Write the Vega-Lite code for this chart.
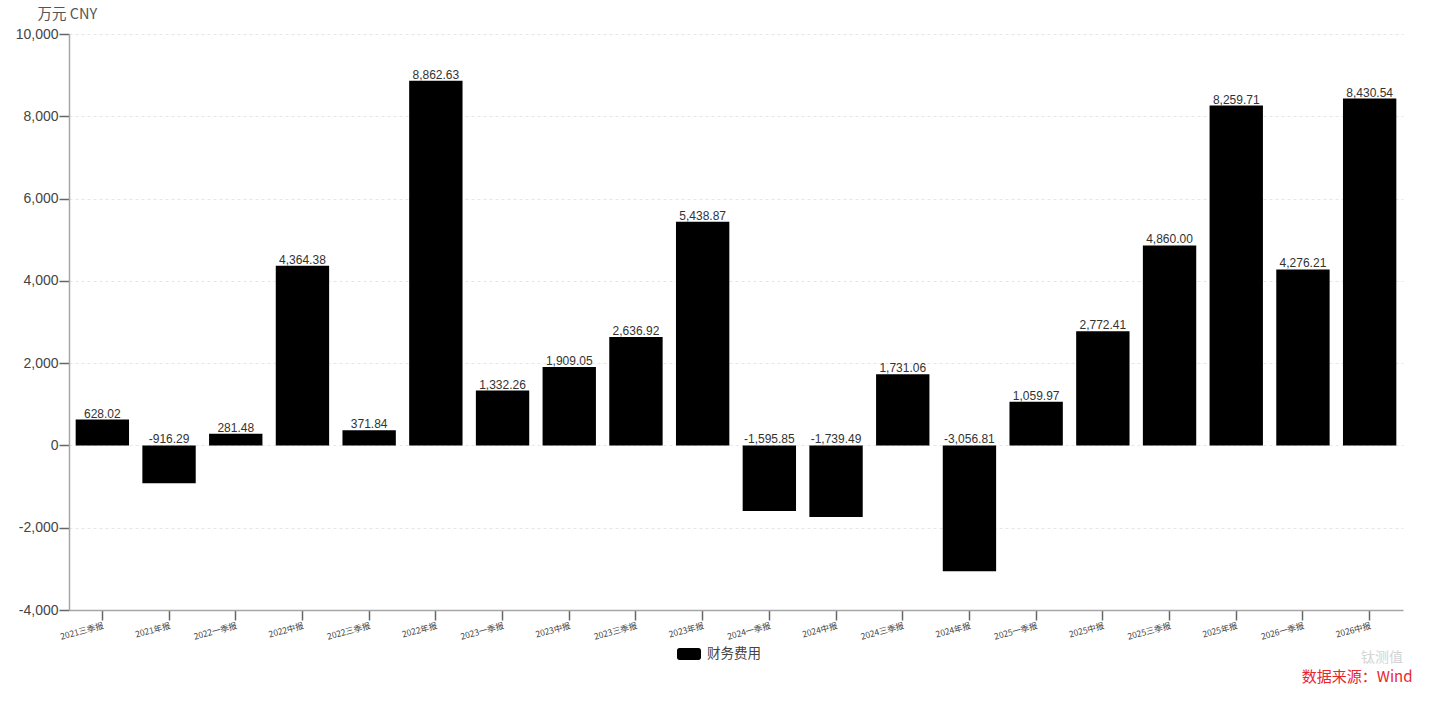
{
"$schema":"https://vega.github.io/schema/vega-lite/v6.json",
"width":1334,"height":576,
"autosize":{"type":"none"},
"padding":{"left":69,"top":34,"right":37,"bottom":91},
"background":"white",
"config":{"font":"Noto Sans CJK SC","view":{"stroke":null}},
"title":{"text":"钛测值","orient":"bottom","anchor":"end","fontSize":14,"fontWeight":"normal","color":"#d4d4d4","offset":0,"dx":-9,"dy":-33},
"data":{"values":[
{"period":"2021三季报","value":628.02,"label":"628.02","series":"财务费用"},
{"period":"2021年报","value":-916.29,"label":"-916.29","series":"财务费用"},
{"period":"2022一季报","value":281.48,"label":"281.48","series":"财务费用"},
{"period":"2022中报","value":4364.38,"label":"4,364.38","series":"财务费用"},
{"period":"2022三季报","value":371.84,"label":"371.84","series":"财务费用"},
{"period":"2022年报","value":8862.63,"label":"8,862.63","series":"财务费用"},
{"period":"2023一季报","value":1332.26,"label":"1,332.26","series":"财务费用"},
{"period":"2023中报","value":1909.05,"label":"1,909.05","series":"财务费用"},
{"period":"2023三季报","value":2636.92,"label":"2,636.92","series":"财务费用"},
{"period":"2023年报","value":5438.87,"label":"5,438.87","series":"财务费用"},
{"period":"2024一季报","value":-1595.85,"label":"-1,595.85","series":"财务费用"},
{"period":"2024中报","value":-1739.49,"label":"-1,739.49","series":"财务费用"},
{"period":"2024三季报","value":1731.06,"label":"1,731.06","series":"财务费用"},
{"period":"2024年报","value":-3056.81,"label":"-3,056.81","series":"财务费用"},
{"period":"2025一季报","value":1059.97,"label":"1,059.97","series":"财务费用"},
{"period":"2025中报","value":2772.41,"label":"2,772.41","series":"财务费用"},
{"period":"2025三季报","value":4860.00,"label":"4,860.00","series":"财务费用"},
{"period":"2025年报","value":8259.71,"label":"8,259.71","series":"财务费用"},
{"period":"2026一季报","value":4276.21,"label":"4,276.21","series":"财务费用"},
{"period":"2026中报","value":8430.54,"label":"8,430.54","series":"财务费用"}
]},
"encoding":{
"x":{"field":"period","type":"nominal","sort":null,"scale":{"paddingInner":0.2,"paddingOuter":0.1},
"axis":{"title":"数据来源：Wind","titleColor":"#e8262d","titleFontSize":15,"titleFontWeight":"normal","titleAnchor":"end","titleX":1343,"titleY":66,"titleBaseline":"middle","labelAngle":-15,"labelAlign":"right","labelBaseline":"top","labelFontSize":8.5,"labelColor":"#444444","labelPadding":1,"labelOverlap":false,"tickSize":10,"tickColor":"#666666","tickWidth":1.5,"domainColor":"#a6a6a6","domainWidth":1.5,"grid":false}}
},
"layer":[
{"mark":{"type":"bar"},
 "encoding":{
  "y":{"field":"value","type":"quantitative","scale":{"domain":[-4000,10000],"nice":false,"zero":false},
   "axis":{"values":[-4000,-2000,0,2000,4000,6000,8000,10000],"labelExpr":"replace(format(datum.value,',d'),'−','-')","title":"万元  CNY","titleAngle":0,"titleX":-32,"titleY":-20,"titleAlign":"left","titleBaseline":"middle","titleFontSize":14.5,"titleFontWeight":"normal","titleColor":"#555555","labelFontSize":14,"labelColor":"#444444","labelFont":"Liberation Sans","labelPadding":1,"tickSize":10,"tickColor":"#666666","tickWidth":1.5,"domainColor":"#a6a6a6","domainWidth":1.5,"grid":true,"gridColor":"#e6e6e6","gridDash":[3,3],"gridWidth":1}},
  "color":{"field":"series","type":"nominal","scale":{"range":["#000000"]},
   "legend":{"title":null,"orient":"none","legendX":608,"legendY":608,"symbolType":"M-1,-0.3A0.2,0.2 0 0 1 -0.8,-0.5L0.8,-0.5A0.2,0.2 0 0 1 1,-0.3L1,0.3A0.2,0.2 0 0 1 0.8,0.5L-0.8,0.5A0.2,0.2 0 0 1 -1,0.3Z","symbolSize":576,"symbolStrokeWidth":0,"symbolOpacity":1,"labelFontSize":13.5,"labelColor":"#444444","labelOffset":6}}
 }},
{"transform":[{"filter":"datum.value >= 0"}],
 "mark":{"type":"text","baseline":"bottom","dy":1,"fontSize":12,"font":"Liberation Sans","color":"#333333"},
 "encoding":{"y":{"field":"value","type":"quantitative"},"text":{"field":"label"}}},
{"transform":[{"filter":"datum.value < 0"}],
 "mark":{"type":"text","baseline":"bottom","dy":1,"fontSize":12,"font":"Liberation Sans","color":"#333333"},
 "encoding":{"y":{"datum":0},"text":{"field":"label"}}}
]
}
